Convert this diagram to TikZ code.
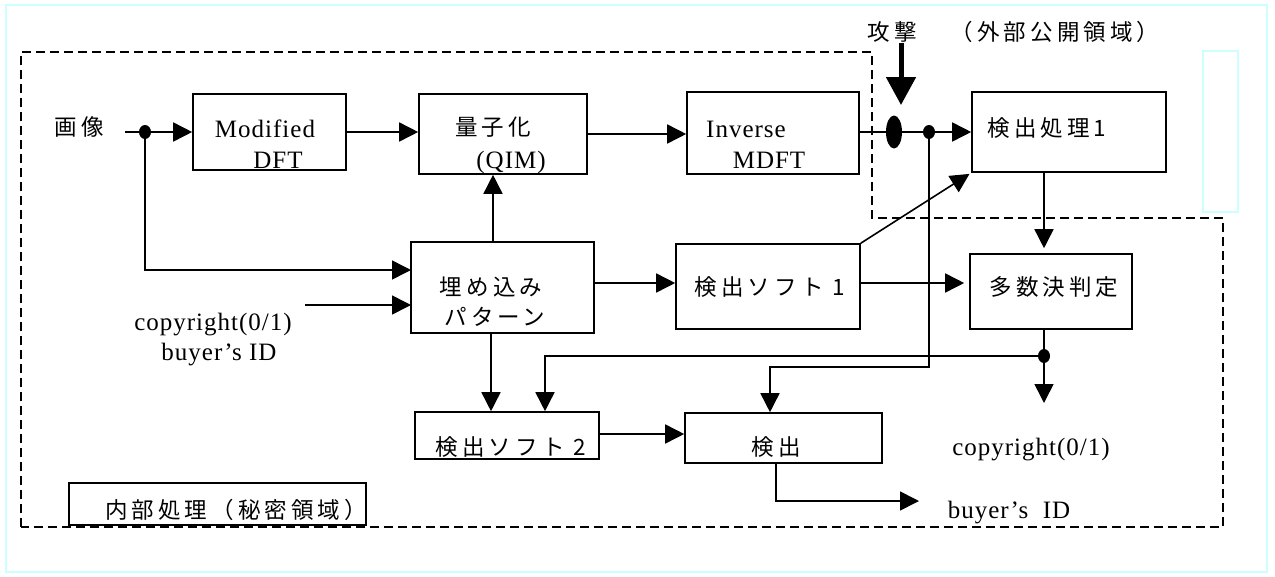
\documentclass[tikz,border=0pt]{standalone}
\usepackage{fontspec}
\setmainfont{Liberation Serif}
\newfontfamily\latf[LetterSpace=4]{Liberation Serif}
\newfontfamily\cjkf[LetterSpace=18]{Noto Sans CJK JP}
\usetikzlibrary{arrows.meta,shapes.geometric}
\definecolor{cyanline}{RGB}{204,255,255}
\begin{document}
\begin{tikzpicture}[x=1pt,y=-1pt,
  box/.style={draw,line width=1.6pt,inner sep=0pt,rectangle},
  lt/.style={font=\latf\fontsize{25}{28}\selectfont,inner sep=0pt},
  jt/.style={font=\cjkf\fontsize{22.5}{26}\selectfont,inner sep=0pt},
  conn/.style={line width=1.6pt},
  arr/.style={conn,-{Triangle[length=19pt,width=19pt]}},
  dot/.style={ellipse,fill=black,inner sep=0pt,minimum width=12pt,minimum height=14pt},
  dashedline/.style={line width=1.5pt,dash pattern=on 9pt off 5pt},
  cyanbox/.style={draw=cyanline,line width=2pt}]
\useasboundingbox (0,0) rectangle (1275,576);
% frames
\draw[cyanbox] (6,5) rectangle (1267,572);
\draw[cyanbox] (1203,51) rectangle (1238,212);
\draw[dashedline] (21,527) -- (21,52) -- (872,52) -- (872,218) -- (1223,218) -- (1223,527) -- cycle;
% boxes
\node[box,minimum width=153pt,minimum height=76pt] (mdft) at (269.5,132) {};
\node[box,minimum width=168pt,minimum height=80pt] (qim) at (503,134) {};
\node[box,minimum width=172pt,minimum height=82pt] (imdft) at (773,133) {};
\node[box,minimum width=194pt,minimum height=80pt] (det1) at (1069,132) {};
\node[box,minimum width=183pt,minimum height=91pt] (emb) at (502.5,287.5) {};
\node[box,minimum width=184pt,minimum height=85pt] (soft1) at (768,286.5) {};
\node[box,minimum width=162pt,minimum height=75pt] (major) at (1051,291.5) {};
\node[box,minimum width=184pt,minimum height=47pt] (soft2) at (507,435.5) {};
\node[box,minimum width=197pt,minimum height=50pt] (det) at (783.5,438) {};
\node[box,fill=white,minimum width=297pt,minimum height=42pt] (inner) at (217.5,504) {};
% texts
\node[jt] (tImg) at (79,127) {画像};
\node[lt,anchor=base] (tMod) at (265,137) {Modified};
\node[lt,anchor=base] (tDFT) at (278,168) {DFT};
\node[jt] (tQ) at (493,127) {量子化};
\node[lt,anchor=base] (tQIM) at (511,168) {(QIM)};
\node[lt,anchor=base] (tInv) at (746,137) {Inverse};
\node[lt,anchor=base] (tMDFT) at (769,168) {MDFT};
\node[jt] (tDet1) at (1047,128) {検出処理1};
\node[jt] (tEmb1) at (491,287) {埋め込み};
\node[jt] (tEmb2) at (495,317) {パターン};
\node[jt] (tSoft1) at (770,287) {検出ソフト 1};
\node[jt] (tMaj) at (1054,287) {多数決判定};
\node[lt,anchor=base] (tCopyL) at (213,330) {copyright(0/1)};
\node[lt,anchor=base] (tBuyL) at (219,360) {buyer’s ID};
\node[jt] (tSoft2) at (511,447) {検出ソフト 2};
\node[jt] (tDet) at (776,447) {検出};
\node[lt,anchor=base] (tCopyR) at (1031,455) {copyright(0/1)};
\node[lt,anchor=base] (tBuyR) at (1009,518) {buyer’s~ ID};
\node[jt] (tAtk) at (892,32) {攻撃};
\node[jt] (tPub) at (1055,32) {（外部公開領域）};
\node[jt] (tInner) at (236,510) {内部処理（秘密領域）};
% connectors
\coordinate (in) at (125,132);
\node[dot] (d1) at (145,132) {};
\draw[arr] (in) -- (mdft.west);
\coordinate (e1) at (411,270);
\draw[arr] (d1) |- (e1);
\coordinate (cin) at (305,305);
\coordinate (e2) at (411,305);
\draw[arr] (cin) -- (e2);
\draw[arr] (mdft.east) -- (mdft.east -| qim.west);
\draw[arr] (qim.east) -- (qim.east -| imdft.west);
\coordinate (eN) at (493,242);
\draw[arr] (eN) -- (eN |- qim.south);
\node[ellipse,fill=black,minimum width=16pt,minimum height=33pt,inner sep=0pt] (att) at (894,132) {};
\node[dot] (d2) at (929,132) {};
\draw[conn] (imdft.east |- att) -- (att.west);
\draw[conn] (att) -- (d2);
\draw[arr] (d2) -- (det1.west);
\coordinate (atk) at (901,43);
\coordinate (atkE) at (901,105);
\draw[line width=5pt,-{Triangle[length=28pt,width=29pt]}] (atk) -- (atkE);
\coordinate (k1) at (770,367);
\draw[arr] (d2) |- (k1) -- (k1 |- det.north);
\draw[arr,shorten >=2pt] (soft1.north east) -- (det1.south west);
\coordinate (mx) at (1044,0);
\draw[arr,shorten >=5pt] (det1.south -| mx) -- (major.north -| mx);
\coordinate (r1) at (0,283);
\draw[arr] (emb.east |- r1) -- (soft1.west |- r1);
\draw[arr,shorten >=5pt] (soft1.east |- r1) -- (major.west |- r1);
\node[dot] (d3) at (1044,356) {};
\coordinate (cpE) at (1044,403);
\draw[conn] (major.south -| mx) -- (d3);
\draw[arr] (d3) -- (cpE);
\coordinate (sx) at (545,0);
\draw[arr] (d3) -| (soft2.north -| sx);
\coordinate (ex) at (491,0);
\draw[arr] (emb.south -| ex) -- (soft2.north -| ex);
\coordinate (r2) at (0,434);
\draw[arr] (soft2.east |- r2) -- (det.west |- r2);
\coordinate (bx) at (776,0);
\coordinate (bE) at (919,501);
\draw[arr] (det.south -| bx) |- (bE);
\end{tikzpicture}
\end{document}
